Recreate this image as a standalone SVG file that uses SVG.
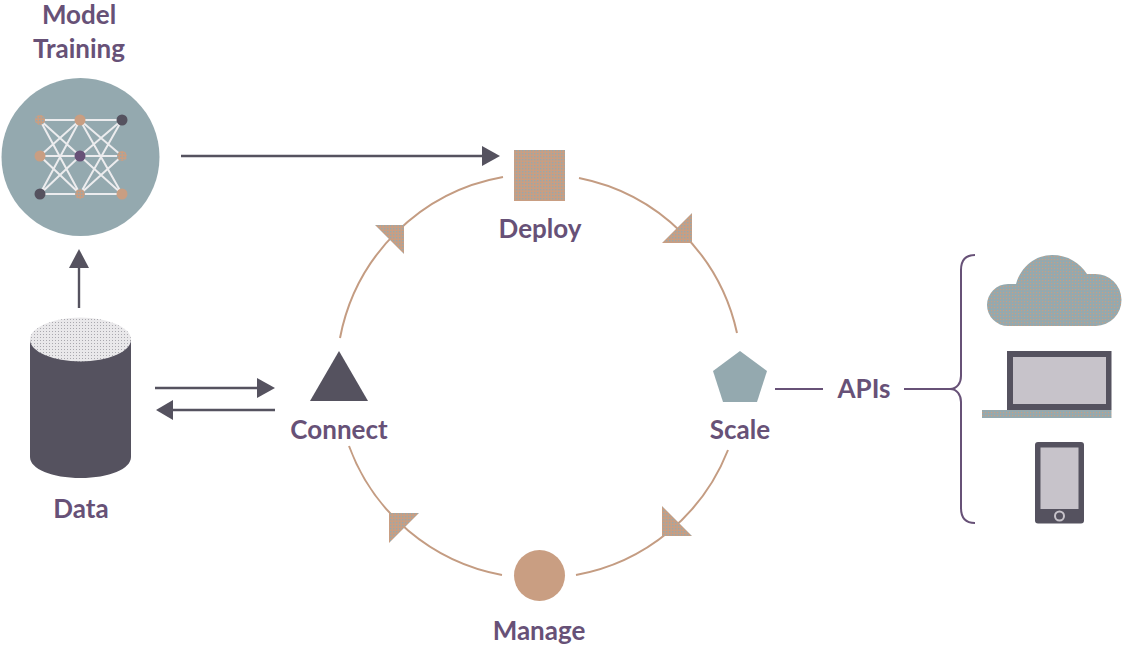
<svg xmlns="http://www.w3.org/2000/svg" width="1122" height="648" viewBox="0 0 1122 648">
<style>
.lbl{font-family:"Lato","Noto Sans",sans-serif;font-weight:700;font-size:26px;fill:#675177;text-anchor:middle}
.conn{fill:none;stroke:#55525F;stroke-width:2.4}
.arc{fill:none;stroke:#C49C82;stroke-width:2}
.brace{fill:none;stroke:#675177;stroke-width:2}
.net{stroke:#ECECEE;stroke-width:2;fill:none}
.head{fill:#55525F}
.dith{fill:url(#tanTeal)}
.edge{stroke:#8A8590;stroke-width:.5}
</style>
<defs>
<pattern id="tanTeal" width="3" height="3" patternUnits="userSpaceOnUse"><rect width="3" height="3" fill="#C99E82"/><rect x="0" y="0" width="1.4" height="1.4" fill="#94A9AF"/></pattern>
<pattern id="tealTan" width="3" height="3" patternUnits="userSpaceOnUse"><rect width="3" height="3" fill="#94A9AF"/><rect x="1" y="1" width="1.2" height="1.2" fill="#C99E82"/></pattern>
<pattern id="greyDot" width="3" height="3" patternUnits="userSpaceOnUse"><rect width="3" height="3" fill="#E9E8EA"/><rect x="1" y="1" width="1" height="1" fill="#A9A8AE"/></pattern>
</defs>
<g id="connectors">
<path class="arc" d="M340 338A202 202 0 0 1 503 177"/>
<path class="arc" d="M579 178A202 202 0 0 1 737 333"/>
<path class="arc" d="M728 450A202 202 0 0 1 576 575"/>
<path class="arc" d="M502 575A202 202 0 0 1 349 446"/>
<polygon class="dith" points="375,225 404,225 404,254"/>
<polygon class="dith" points="692,213 692,243 662,243"/>
<polygon class="dith" points="662,506 662,536 692,536"/>
<polygon class="dith" points="389,513 419,513 389,543"/>
<path class="conn" d="M181 156H484"/><polygon class="head" points="482,146 500,156 482,166"/>
<path class="conn" d="M79 308V266"/><polygon class="head" points="69,268 79,249 89,268"/>
<path class="conn" d="M155 388H259"/><polygon class="head" points="257,378 275,388 257,398"/>
<path class="conn" d="M275 410H171"/><polygon class="head" points="173,400 156,410 173,420"/>
<path class="brace" d="M775 389H823M904 389H950C957 389 961 383 961 376V270C961 260 965 255 975 255M950 389C957 389 961 395 961 402V508C961 518 965 523 975 523"/>
</g>
<g id="model-training">
<circle cx="80.5" cy="157" r="79" fill="#94A9AF"/>
<path class="net" d="M40 120H122M40 156H122M40 194H122M40 120L80 156M40 120L80 194M40 156L80 120M40 156L80 194M40 194L80 120M40 194L80 156M80 120L122 156M80 120L122 194M80 156L122 120M80 156L122 194M80 194L122 120M80 194L122 156"/>
<circle cx="40" cy="120" r="5" class="dith"/><circle cx="80" cy="120" r="5.5" fill="#C99E82"/><circle cx="122" cy="120" r="5.5" fill="#55525F"/>
<circle cx="40" cy="156" r="5.5" fill="#C99E82"/><circle cx="80" cy="156" r="5.5" fill="#675177"/><circle cx="122" cy="156" r="5" class="dith"/>
<circle cx="40" cy="194" r="5.5" fill="#55525F"/><circle cx="80" cy="194" r="5" class="dith"/><circle cx="122" cy="194" r="5.5" fill="#C99E82"/>
<text class="lbl" x="79" y="24">Model</text><text class="lbl" x="79" y="58">Training</text>
</g>
<g id="data">
<path d="M30 339.500V457C30 469 52 478 80.500 478S131 469 131 457V339.500Z" fill="#55525F"/>
<ellipse cx="80.500" cy="339.500" rx="50.500" ry="22" fill="url(#greyDot)"/>
<text class="lbl" x="81" y="518">Data</text>
</g>
<g id="deploy">
<rect x="514" y="150" width="51" height="51" class="dith"/>
<text class="lbl" x="540" y="238">Deploy</text>
</g>
<g id="scale">
<polygon points="740,351 767,371 757,402 723,402 713,371" fill="#94A9AF"/>
<text class="lbl" x="740" y="439">Scale</text>
</g>
<g id="manage">
<circle cx="539.500" cy="575.500" r="25.500" fill="#C99E82"/>
<text class="lbl" x="539" y="640">Manage</text>
</g>
<g id="connect">
<polygon points="339,351 368,401 310,401" fill="#55525F"/>
<text class="lbl" x="339" y="439">Connect</text>
</g>
<g id="apis"><text class="lbl" x="864" y="398">APIs</text></g>
<g id="cloud">
<path d="M1008 326A21 21 0 0 1 1008 284H1016C1021 266 1036 255 1052 255C1068 255 1080 263 1087 274H1095A26 26 0 0 1 1096 326Z" fill="url(#tealTan)"/>
</g>
<g id="laptop">
<rect x="1007" y="351" width="104.500" height="59" fill="#55525F"/>
<rect x="1013" y="357" width="93" height="47" fill="#C7C3CA"/>
<rect x="982" y="410" width="129.500" height="8" fill="url(#tealTan)"/>
</g>
<g id="tablet">
<rect x="1035" y="442" width="49" height="81.500" rx="3" fill="#55525F"/>
<rect x="1040.500" y="447.500" width="38" height="61.500" fill="#C7C3CA"/>
<circle cx="1059.500" cy="516" r="4.500" fill="none" stroke="#C7C3CA" stroke-width="2"/>
</g>
</svg>
